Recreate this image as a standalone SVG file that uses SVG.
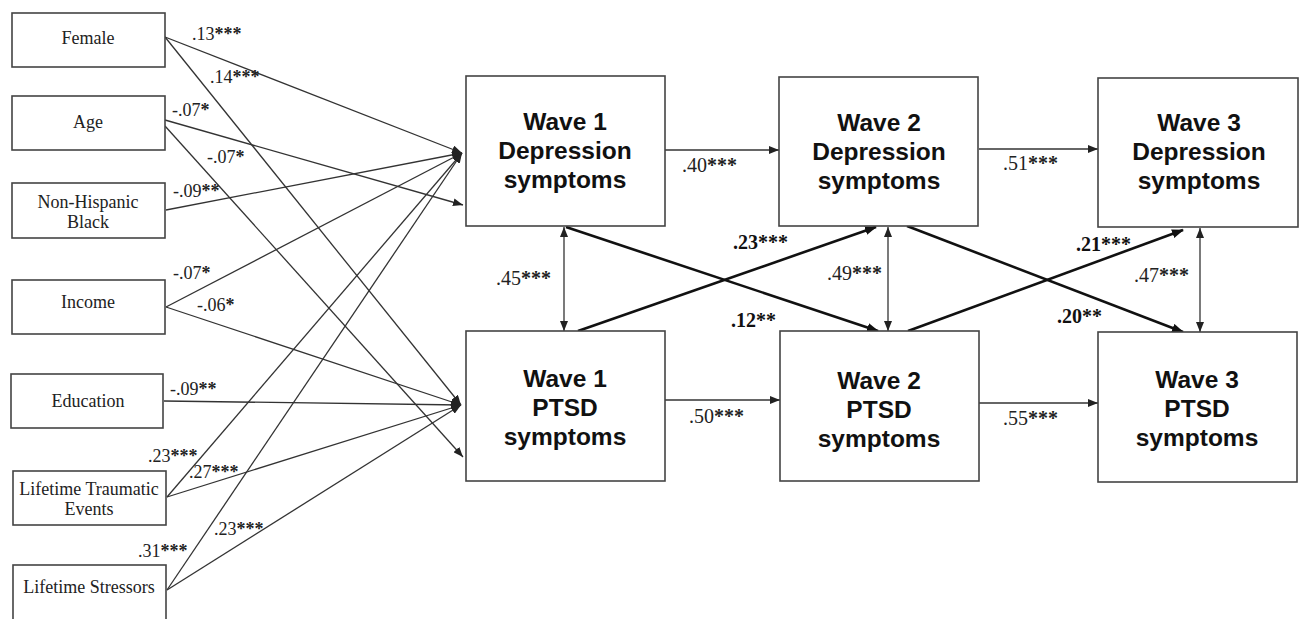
<svg xmlns="http://www.w3.org/2000/svg" width="1303" height="619" viewBox="0 0 1303 619">
<style>
.box{fill:#fff;stroke:#444;stroke-width:1.6}
.lt{font-family:"Liberation Serif","Times New Roman",serif;font-size:18px;fill:#222;text-anchor:middle}
.wt{font-family:"Liberation Sans",Arial,sans-serif;font-weight:bold;font-size:24.5px;fill:#111;text-anchor:middle}
.lb{font-family:"Liberation Serif","Times New Roman",serif;font-size:18px;fill:#222}
.cb{font-family:"Liberation Serif","Times New Roman",serif;font-size:20px;fill:#222}
.bb{font-weight:bold;fill:#111}
.st{font-weight:bold}
.ln{stroke:#333;stroke-width:1.3;fill:none}
.tk{stroke:#111;stroke-width:2.6;fill:none}
</style>
<defs>
<marker id="a" markerUnits="userSpaceOnUse" markerWidth="10" markerHeight="8" refX="10" refY="4" orient="auto-start-reverse"><path d="M0,0 L10,4 L0,8 z" fill="#222"/></marker>
<marker id="b" markerUnits="userSpaceOnUse" markerWidth="12" markerHeight="9" refX="11" refY="4.5" orient="auto"><path d="M0,0 L12,4.5 L0,9 z" fill="#111"/></marker>
</defs>
<g id="connectors">
<line class="ln" x1="165" y1="37" x2="462" y2="153" marker-end="url(#a)"/>
<line class="ln" x1="165" y1="37" x2="461" y2="405" marker-end="url(#a)"/>
<line class="ln" x1="165" y1="120" x2="463" y2="205" marker-end="url(#a)"/>
<line class="ln" x1="165" y1="126" x2="463" y2="457" marker-end="url(#a)"/>
<line class="ln" x1="166" y1="210" x2="462" y2="153" marker-end="url(#a)"/>
<line class="ln" x1="166" y1="307" x2="462" y2="153" marker-end="url(#a)"/>
<line class="ln" x1="166" y1="307" x2="461" y2="405" marker-end="url(#a)"/>
<line class="ln" x1="164" y1="401" x2="461" y2="405" marker-end="url(#a)"/>
<line class="ln" x1="167" y1="497" x2="462" y2="153" marker-end="url(#a)"/>
<line class="ln" x1="167" y1="497" x2="461" y2="405" marker-end="url(#a)"/>
<line class="ln" x1="167" y1="590" x2="462" y2="153" marker-end="url(#a)"/>
<line class="ln" x1="167" y1="590" x2="461" y2="405" marker-end="url(#a)"/>
<line class="ln" x1="665" y1="150" x2="779" y2="150" marker-end="url(#a)"/>
<line class="ln" x1="665" y1="400" x2="780" y2="400" marker-end="url(#a)"/>
<line class="ln" x1="979" y1="149" x2="1098" y2="149" marker-end="url(#a)"/>
<line class="ln" x1="979" y1="403" x2="1098" y2="403" marker-end="url(#a)"/>
<line class="ln" x1="564" y1="227" x2="564" y2="331" marker-start="url(#a)" marker-end="url(#a)"/>
<line class="ln" x1="888" y1="227" x2="888" y2="331" marker-start="url(#a)" marker-end="url(#a)"/>
<line class="ln" x1="1200" y1="228" x2="1200" y2="332" marker-start="url(#a)" marker-end="url(#a)"/>
<line class="tk" x1="566" y1="227" x2="878" y2="331" marker-end="url(#b)"/>
<line class="tk" x1="578" y1="331" x2="876" y2="227" marker-end="url(#b)"/>
<line class="tk" x1="907" y1="226" x2="1183" y2="332" marker-end="url(#b)"/>
<line class="tk" x1="908" y1="331" x2="1183" y2="230" marker-end="url(#b)"/>
</g>
<g id="female"><rect class="box" x="12" y="13" width="153" height="54"/><text class="lt" x="88" y="44">Female</text></g>
<g id="age"><rect class="box" x="12" y="96" width="153" height="54"/><text class="lt" x="88" y="128">Age</text></g>
<g id="black"><rect class="box" x="12" y="183" width="153" height="55"/><text class="lt" x="88" y="208">Non-Hispanic</text><text class="lt" x="88" y="228">Black</text></g>
<g id="income"><rect class="box" x="12" y="280" width="153" height="54"/><text class="lt" x="88" y="308">Income</text></g>
<g id="education"><rect class="box" x="11" y="374" width="152" height="54"/><text class="lt" x="88" y="407">Education</text></g>
<g id="traumatic"><rect class="box" x="13" y="471" width="153" height="54"/><text class="lt" x="89" y="495">Lifetime Traumatic</text><text class="lt" x="89" y="515">Events</text></g>
<g id="stressors"><rect class="box" x="13" y="565" width="153" height="58"/><text class="lt" x="89" y="593">Lifetime Stressors</text></g>
<g id="w1dep"><rect class="box" x="466" y="76" width="199" height="150"/><text class="wt" x="565" y="130">Wave 1</text><text class="wt" x="565" y="159">Depression</text><text class="wt" x="565" y="188">symptoms</text></g>
<g id="w1ptsd"><rect class="box" x="466" y="331" width="199" height="150"/><text class="wt" x="565" y="387">Wave 1</text><text class="wt" x="565" y="416">PTSD</text><text class="wt" x="565" y="445">symptoms</text></g>
<g id="w2dep"><rect class="box" x="779" y="77" width="199" height="149"/><text class="wt" x="879" y="131">Wave 2</text><text class="wt" x="879" y="160">Depression</text><text class="wt" x="879" y="189">symptoms</text></g>
<g id="w2ptsd"><rect class="box" x="780" y="331" width="199" height="150"/><text class="wt" x="879" y="389">Wave 2</text><text class="wt" x="879" y="418">PTSD</text><text class="wt" x="879" y="447">symptoms</text></g>
<g id="w3dep"><rect class="box" x="1098" y="78" width="200" height="149"/><text class="wt" x="1199" y="131">Wave 3</text><text class="wt" x="1199" y="160">Depression</text><text class="wt" x="1199" y="189">symptoms</text></g>
<g id="w3ptsd"><rect class="box" x="1098" y="332" width="199" height="150"/><text class="wt" x="1197" y="388">Wave 3</text><text class="wt" x="1197" y="417">PTSD</text><text class="wt" x="1197" y="446">symptoms</text></g>
<g id="labels">
<text class="lb" x="192" y="40">.13<tspan class="st">***</tspan></text>
<text class="lb" x="210" y="83">.14<tspan class="st">***</tspan></text>
<text class="lb" x="172" y="116">-.07<tspan class="st">*</tspan></text>
<text class="lb" x="207" y="163">-.07<tspan class="st">*</tspan></text>
<text class="lb" x="173" y="197">-.09<tspan class="st">**</tspan></text>
<text class="lb" x="173" y="279">-.07<tspan class="st">*</tspan></text>
<text class="lb" x="197" y="311">-.06<tspan class="st">*</tspan></text>
<text class="lb" x="170" y="395">-.09<tspan class="st">**</tspan></text>
<text class="lb" x="148" y="462">.23<tspan class="st">***</tspan></text>
<text class="lb" x="189" y="478">.27<tspan class="st">***</tspan></text>
<text class="lb" x="214" y="535">.23<tspan class="st">***</tspan></text>
<text class="lb" x="138" y="557">.31<tspan class="st">***</tspan></text>
<text class="cb" x="682" y="172">.40<tspan class="st">***</tspan></text>
<text class="cb" x="496" y="285">.45<tspan class="st">***</tspan></text>
<text class="cb bb" x="733" y="249">.23***</text>
<text class="cb bb" x="731" y="327">.12**</text>
<text class="cb" x="827" y="280">.49<tspan class="st">***</tspan></text>
<text class="cb" x="689" y="423">.50<tspan class="st">***</tspan></text>
<text class="cb" x="1003" y="170">.51<tspan class="st">***</tspan></text>
<text class="cb bb" x="1076" y="251">.21***</text>
<text class="cb" x="1134" y="282">.47<tspan class="st">***</tspan></text>
<text class="cb bb" x="1057" y="323">.20**</text>
<text class="cb" x="1003" y="425">.55<tspan class="st">***</tspan></text>
</g>
</svg>
